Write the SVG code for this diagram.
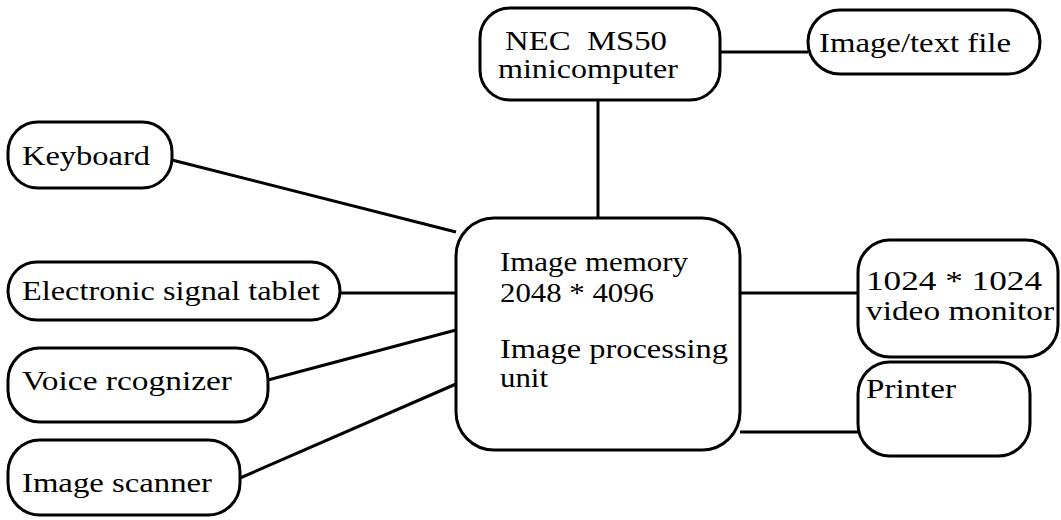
<svg xmlns="http://www.w3.org/2000/svg" width="1061" height="520" viewBox="0 0 1061 520">
<style>
.box{fill:#fff;stroke:#000;stroke-width:3}
.ln{stroke:#000;stroke-width:3;fill:none}
text{font-family:"Liberation Serif","Times New Roman",serif;font-size:28px;fill:#000}
</style>
<rect width="1061" height="520" fill="#fff"/>
<g id="connectors">
<line class="ln" x1="720" y1="52" x2="808" y2="52"/>
<line class="ln" x1="598" y1="100" x2="598" y2="218"/>
<line class="ln" x1="172" y1="160" x2="456" y2="232"/>
<line class="ln" x1="340" y1="293" x2="456" y2="293"/>
<line class="ln" x1="268" y1="380" x2="456" y2="330"/>
<line class="ln" x1="240" y1="478" x2="456" y2="384"/>
<line class="ln" x1="740" y1="293" x2="858" y2="293"/>
<line class="ln" x1="740" y1="432" x2="858" y2="432"/>
</g>
<g id="nec">
<rect class="box" x="480" y="8" width="240" height="92" rx="30"/>
<text x="505" y="50" textLength="162" lengthAdjust="spacingAndGlyphs" xml:space="preserve">NEC  MS50</text>
<text x="498" y="78" textLength="180" lengthAdjust="spacingAndGlyphs">minicomputer</text>
</g>
<g id="file">
<rect class="box" x="808" y="10" width="232" height="64" rx="32"/>
<text x="819" y="52" textLength="192" lengthAdjust="spacingAndGlyphs">Image/text file</text>
</g>
<g id="keyboard">
<rect class="box" x="8" y="122" width="164" height="66" rx="30"/>
<text x="22" y="165" textLength="128" lengthAdjust="spacingAndGlyphs">Keyboard</text>
</g>
<g id="tablet">
<rect class="box" x="8" y="262" width="332" height="58" rx="29"/>
<text x="22" y="300" textLength="298" lengthAdjust="spacingAndGlyphs">Electronic signal tablet</text>
</g>
<g id="voice">
<rect class="box" x="8" y="348" width="260" height="74" rx="32"/>
<text x="22" y="390" textLength="210" lengthAdjust="spacingAndGlyphs">Voice rcognizer</text>
</g>
<g id="scanner">
<rect class="box" x="8" y="440" width="232" height="75" rx="32"/>
<text x="22" y="492" textLength="190" lengthAdjust="spacingAndGlyphs">Image scanner</text>
</g>
<g id="central">
<rect class="box" x="456" y="218" width="284" height="232" rx="38"/>
<text x="500" y="271" textLength="188" lengthAdjust="spacingAndGlyphs">Image memory</text>
<text x="500" y="302" textLength="154" lengthAdjust="spacingAndGlyphs">2048 * 4096</text>
<text x="500" y="358" textLength="228" lengthAdjust="spacingAndGlyphs">Image processing</text>
<text x="500" y="387" textLength="48" lengthAdjust="spacingAndGlyphs">unit</text>
</g>
<g id="monitor">
<rect class="box" x="858" y="240" width="200" height="117" rx="32"/>
<text x="866" y="290" textLength="176" lengthAdjust="spacingAndGlyphs">1024 * 1024</text>
<text x="866" y="320" textLength="188" lengthAdjust="spacingAndGlyphs">video monitor</text>
</g>
<g id="printer">
<rect class="box" x="858" y="362" width="172" height="94" rx="32"/>
<text x="866" y="398" textLength="90" lengthAdjust="spacingAndGlyphs">Printer</text>
</g>
</svg>
